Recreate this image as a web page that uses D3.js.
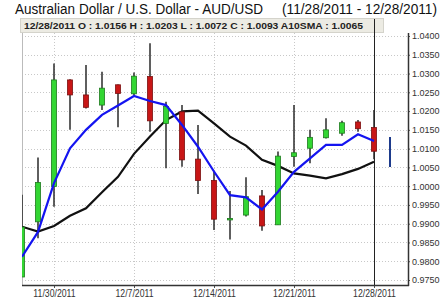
<!DOCTYPE html>
<html>
<head>
<meta charset="utf-8">
<script src="https://cdn.jsdelivr.net/npm/d3@7"></script>
<style>
    body { margin: 0; background: #fff; }
    text { font-family: "Liberation Sans", Arial, sans-serif; }
</style>
</head>
<body>
<div id="chart"></div>
<script>

// trading days shown on the chart
const dates = ["11/28/2011", "11/29/2011", "11/30/2011", "12/1/2011", "12/2/2011",
    "12/5/2011", "12/6/2011", "12/7/2011", "12/8/2011", "12/9/2011",
    "12/12/2011", "12/13/2011", "12/14/2011", "12/15/2011", "12/16/2011",
    "12/19/2011", "12/20/2011", "12/21/2011", "12/22/2011", "12/23/2011",
    "12/26/2011", "12/27/2011", "12/28/2011"];

// OHLC values
const opens  = [0.9758, 0.9905, 0.9999, 1.0283, 1.0243, 1.0216, 1.0270, 1.0246, 1.0292, 1.0167,
    1.0198, 1.0072, 1.0015, 0.9911, 0.9923, 0.9974, 0.9897, 1.0079, 1.0101, 1.0129, 1.0141, 1.0171, 1.0156];
const highs  = [0.9977, 1.0076, 1.0327, 1.0285, 1.0323, 1.0305, 1.0271, 1.0303, 1.0381, 1.0225,
    1.0216, 1.0163, 1.0041, 0.9987, 1.0024, 0.9990, 1.0092, 1.0216, 1.0150, 1.0181, 1.0174, 1.0176, 1.0203];
const lows   = [0.9758, 0.9861, 0.9945, 1.0150, 1.0207, 1.0203, 1.0157, 1.0243, 1.0145, 1.0048,
    1.0052, 0.9979, 0.9883, 0.9858, 0.9919, 0.9881, 0.9897, 1.0052, 1.0061, 1.0127, 1.0134, 1.0145, 1.0072];
const closes = [0.9891, 1.0010, 1.0283, 1.0243, 1.0210, 1.0261, 1.0247, 1.0293, 1.0174, 1.0212,
    1.0070, 1.0015, 0.9912, 0.9914, 0.9972, 0.9894, 1.0080, 1.0089, 1.0130, 1.0150, 1.0169, 1.0153, 1.0093];

// short moving average (blue) and 10 day SMA (black)
const fastAvg = [0.9812, 0.9878, 1.0008, 1.0101, 1.0150, 1.0190, 1.0215, 1.0240, 1.0227, 1.0216,
    1.0163, 1.0105, 1.0039, 0.9976, 0.9970, 0.9938, 0.9985, 1.0038, 1.0074, 1.0110, 1.0110, 1.0138, 1.0120];
const sma10 = [0.9892, 0.9879, 0.9894, 0.9921, 0.9941, 0.9984, 1.0025, 1.0086, 1.0132, 1.0176,
    1.0199, 1.0201, 1.0167, 1.0132, 1.0108, 1.0070, 1.0054, 1.0034, 1.0028, 1.0021, 1.0032, 1.0046, 1.0065];

// projected range for the next session
const nextDate = "12/29/2011";
const nextRange = [1.0051, 1.0131];

const xLabels = ["11/30/2011", "12/7/2011", "12/14/2011", "12/21/2011", "12/28/2011"];
const yTicks = [0.975, 0.98, 0.985, 0.99, 0.995, 1.0, 1.005, 1.01, 1.015, 1.02, 1.025, 1.03, 1.035, 1.04];

const titleLeft = "Australian Dollar / U.S. Dollar -  AUD/USD";
const titleRight = "(11/28/2011 - 12/28/2011)";
const header = "12/28/2011 O : 1.0156 H : 1.0203 L : 1.0072 C : 1.0093 A10SMA : 1.0065";

const bars = dates.map((d, i) => ({date: d, o: opens[i], h: highs[i], l: lows[i], c: closes[i]}));

const W = 441, H = 300;
const plot = {left: 22, right: 408, top: 33, bottom: 285};

const svg = d3.select("#chart").append("svg")
    .attr("width", W)
    .attr("height", H);

// scales
const x = d3.scalePoint()
    .domain(dates.concat([nextDate]))
    .range([22, 390]);
const y = d3.scaleLinear()
    .domain([0.975, 1.04])
    .range([280, 36]);

// squeeze a text to a narrower width (the original uses a condensed UI font)
function squeeze(sel, ratio) {
    sel.each(function () {
        const w = this.getComputedTextLength();
        d3.select(this)
            .attr("textLength", w * ratio)
            .attr("lengthAdjust", "spacingAndGlyphs");
    });
}

// clip path for the plot area
svg.append("defs").append("clipPath")
    .attr("id", "clip")
    .append("rect")
    .attr("x", plot.left)
    .attr("y", plot.top)
    .attr("width", plot.right - plot.left)
    .attr("height", plot.bottom - plot.top);

// title, in two pieces
svg.append("text")
    .attr("x", 15)
    .attr("y", 14)
    .attr("font-size", 14)
    .attr("fill", "#111")
    .attr("textLength", 248)
    .attr("lengthAdjust", "spacingAndGlyphs")
    .text(titleLeft);

svg.append("text")
    .attr("x", 282)
    .attr("y", 14)
    .attr("font-size", 14)
    .attr("fill", "#111")
    .attr("textLength", 155)
    .attr("lengthAdjust", "spacingAndGlyphs")
    .text(titleRight);

// horizontal grid
svg.append("g")
    .selectAll("line")
    .data(yTicks)
    .enter().append("line")
    .attr("x1", plot.left).attr("x2", plot.right)
    .attr("y1", d => Math.round(y(d)) + 0.5)
    .attr("y2", d => Math.round(y(d)) + 0.5)
    .attr("stroke", "#c8c8c8")
    .attr("stroke-dasharray", "1,2");

// vertical grid at the labelled dates
svg.append("g")
    .selectAll("line")
    .data(xLabels.slice(0, 4))
    .enter().append("line")
    .attr("x1", d => Math.round(x(d)) + 0.5)
    .attr("x2", d => Math.round(x(d)) + 0.5)
    .attr("y1", plot.top).attr("y2", plot.bottom)
    .attr("stroke", "#c8c8c8")
    .attr("stroke-dasharray", "1,2");

// left border
svg.append("line")
    .attr("x1", plot.left + 0.5).attr("x2", plot.left + 0.5)
    .attr("y1", plot.top).attr("y2", plot.bottom)
    .attr("stroke", "#bbb");

// header band
svg.append("rect")
    .attr("x", 20.5).attr("y", 18.5)
    .attr("width", 363).attr("height", 14)
    .attr("fill", "#ecebe3")
    .attr("stroke", "#d4d3cb");

svg.append("text")
    .attr("x", 24)
    .attr("y", 29)
    .attr("font-size", 9)
    .attr("font-weight", "bold")
    .attr("fill", "#222")
    .attr("textLength", 339)
    .attr("lengthAdjust", "spacingAndGlyphs")
    .text(header);

// cursor line at the last bar
svg.append("line")
    .attr("x1", Math.round(x(dates[dates.length - 1])) + 0.5)
    .attr("x2", Math.round(x(dates[dates.length - 1])) + 0.5)
    .attr("y1", 19).attr("y2", plot.bottom)
    .attr("stroke", "#222");

const marks = svg.append("g").attr("clip-path", "url(#clip)");

// moving averages
const line = d3.line()
    .x((d, i) => x(dates[i]))
    .y(d => y(d));

marks.append("path")
    .datum(sma10)
    .attr("d", line)
    .attr("fill", "none")
    .attr("stroke", "#111")
    .attr("stroke-width", 2.2);

// candles
const candle = marks.selectAll(".candle")
    .data(bars)
    .enter().append("g")
    .attr("class", "candle");

candle.append("line")
    .attr("x1", d => x(d.date)).attr("x2", d => x(d.date))
    .attr("y1", d => y(d.h)).attr("y2", d => y(d.l))
    .attr("stroke", "#2a2a2a")
    .attr("stroke-width", 1.5);

candle.append("rect")
    .attr("x", d => x(d.date) - 2.5)
    .attr("width", 5)
    .attr("y", d => y(Math.max(d.o, d.c)))
    .attr("height", d => Math.max(1.5, Math.abs(y(d.o) - y(d.c))))
    .attr("fill", d => d.c >= d.o ? "#33d633" : "#c81616")
    .attr("stroke", d => d.c >= d.o ? "#1f7a1f" : "#7a1010")
    .attr("stroke-width", 0.8);

marks.append("path")
    .datum(fastAvg)
    .attr("d", line)
    .attr("fill", "none")
    .attr("stroke", "#1414f0")
    .attr("stroke-width", 2.2);

// projected range marker
marks.append("line")
    .attr("x1", x(nextDate)).attr("x2", x(nextDate))
    .attr("y1", y(nextRange[0])).attr("y2", y(nextRange[1]))
    .attr("stroke", "#1d3b8c")
    .attr("stroke-width", 2);

// y axis on the right
const yAxis = svg.append("g")
    .attr("transform", `translate(${plot.right},0)`)
    .call(d3.axisRight(y).tickValues(yTicks).tickFormat(d3.format(".4f")).tickSize(2));
yAxis.select(".domain").remove();
yAxis.selectAll("text")
    .attr("font-size", 9)
    .attr("fill", "#333")
    .attr("x", 4);
yAxis.selectAll(".tick line").attr("stroke", "#555");

svg.append("line")
    .attr("x1", plot.right + 0.5).attr("x2", plot.right + 0.5)
    .attr("y1", 33).attr("y2", plot.bottom + 1)
    .attr("stroke", "#333")
    .attr("stroke-width", 1.5);

// x axis at the bottom
const xAxis = svg.append("g")
    .attr("transform", `translate(0,${plot.bottom})`)
    .call(d3.axisBottom(x).tickValues(xLabels).tickSize(3));
xAxis.select(".domain").remove();
xAxis.selectAll("text")
    .attr("font-size", 10)
    .attr("fill", "#333")
    .attr("y", 5)
    .call(squeeze, 0.87);
xAxis.selectAll(".tick line").attr("stroke", "#555");

svg.append("line")
    .attr("x1", plot.left).attr("x2", plot.right + 1)
    .attr("y1", plot.bottom + 0.5).attr("y2", plot.bottom + 0.5)
    .attr("stroke", "#333")
    .attr("stroke-width", 1.5);

</script>
</body>
</html>
